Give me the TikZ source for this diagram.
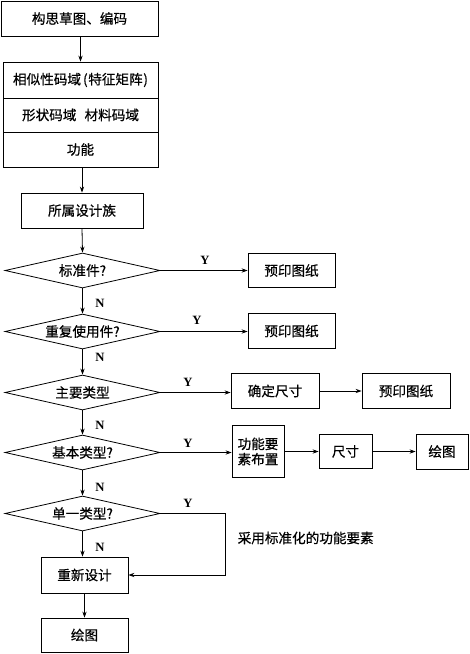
\documentclass[tikz,border=0pt]{standalone}
\usepackage{fontspec}
\setmainfont{Liberation Serif}
\newfontfamily\cjk[FakeBold=0.5]{Noto Sans CJK SC}
\usetikzlibrary{shapes.geometric,arrows.meta}
\begin{document}
\begin{tikzpicture}[x=0.75pt,y=-0.75pt,
  every node/.style={font=\cjk\fontsize{10.2}{12}\selectfont},
  bx/.style={draw,rectangle,line width=0.6pt,inner sep=0pt,align=center},
  dm/.style={draw,diamond,line width=0.6pt,inner sep=0pt,shape aspect=4.43,minimum width=116.25pt,minimum height=26.25pt},
  yn/.style={font=\rmfamily\bfseries\fontsize{9.5}{11}\selectfont},
  ln/.style={line width=0.6pt},
  ar/.style={line width=0.6pt,-{Stealth[length=4.5pt,width=3.2pt]}}]
\useasboundingbox (0,0) rectangle (470,654);
% left column
\node[bx,minimum width=117.75pt,minimum height=26.25pt] (a) at (79.5,18.5) {构思草图、编码};
\node[bx,minimum width=116.25pt,minimum height=27pt] (s1) at (80.5,80) {相似性码域\hspace{1.5pt}(\hspace{0.5pt}特征矩阵\hspace{0.5pt})};
\node[bx,minimum width=116.25pt,minimum height=25.5pt] (s2) at (80.5,115) {形状码域\hspace{0.6em}材料码域};
\node[bx,minimum width=116.25pt,minimum height=26.25pt] (s3) at (80.5,149.5) {功能};
\node[bx,minimum width=91.5pt,minimum height=26.25pt] (fam) at (82,210.5) {所属设计族};
\node[dm] (d1) at (82.5,270.5) {标准件?};
\node[dm] (d2) at (82.5,331.5) {重复使用件?};
\node[dm] (d3) at (82.5,392.5) {主要类型};
\node[dm] (d4) at (82.5,452.5) {基本类型?};
\node[dm] (d5) at (82.5,513.5) {单一类型?};
\node[bx,minimum width=65.25pt,minimum height=27pt] (re) at (84.5,575) {重新设计};
\node[bx,minimum width=65.25pt,minimum height=25.5pt] (dr) at (84.5,635) {绘图};
% right boxes
\node[bx,minimum width=65.25pt,minimum height=25.5pt] (p1) at (291.5,270.5) {预印图纸};
\node[bx,minimum width=65.25pt,minimum height=26.25pt] (p2) at (291.5,331) {预印图纸};
\node[bx,minimum width=66pt,minimum height=26.25pt] (ds) at (275,391) {确定尺寸};
\node[bx,minimum width=66pt,minimum height=26.25pt] (p3) at (406,391) {预印图纸};
\node[bx,minimum width=39pt,minimum height=39pt,font=\cjk\fontsize{10.2}{11.5}\selectfont] (fy) at (258,451.5) {功能要\\素布置};
\node[bx,minimum width=39.75pt,minimum height=25.5pt] (cc) at (345.5,451.5) {尺寸};
\node[bx,minimum width=39pt,minimum height=26.25pt] (dr2) at (442,451.5) {绘图};
\node[anchor=west] (std) at (233,538) {采用标准化的功能要素};
% connectors
\draw[ar] (a.south -| s1.north) -- (s1.north);
\draw[ar] (s3.south -| fam.north) -- (fam.north);
\draw[ar] (fam.south) -- (d1.north);
\draw[ar] (d1.south) -- (d2.north);
\draw[ar] (d2.south) -- (d3.north);
\draw[ar] (d3.south) -- (d4.north);
\draw[ar] (d4.south) -- (d5.north);
\draw[ar] (d5.south) -- (d5.south |- re.north);
\draw[ar] (re.south) -- (dr.north);
\draw[ar] (d1.east) -- (p1.west);
\draw[ar] (d2.east) -- (d2.east -| p2.west);
\draw[ar] (d3.east) -- (d3.east -| ds.west);
\draw[ar] (ds.east) -- (p3.west);
\draw[ar] (d4.east) -- (d4.east -| fy.west);
\draw[ar] (fy.east) -- (fy.east -| cc.west);
\draw[ar] (cc.east) -- (dr2.west);
\coordinate (c1) at (225,513.5);
\draw[ar] (d5.east) -- (c1) |- (re.east);
% labels
\node[yn] (y1) at (205,260) {Y};
\node[yn] (y2) at (197,320) {Y};
\node[yn] (y3) at (188,382) {Y};
\node[yn] (y4) at (188,443) {Y};
\node[yn] (y5) at (188,503) {Y};
\node[yn] (n1) at (100,303) {N};
\node[yn] (n2) at (100,357) {N};
\node[yn] (n3) at (100,425) {N};
\node[yn] (n4) at (100,487) {N};
\node[yn] (n5) at (100,547) {N};
\end{tikzpicture}
\end{document}
